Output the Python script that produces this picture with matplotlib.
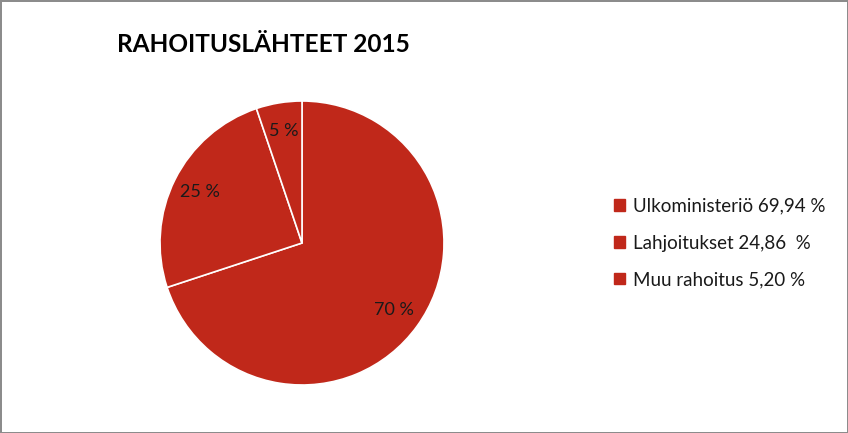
import matplotlib
matplotlib.use("Agg")
import matplotlib.pyplot as plt
from matplotlib.patches import Patch
import numpy as np

labels = ["Ulkoministeriö 69,94 %", "Lahjoitukset 24,86  %", "Muu rahoitus 5,20 %"]
values = [69.94, 24.86, 5.20]
pct_labels = ["70 %", "25 %", "5 %"]
title = "RAHOITUSLÄHTEET 2015"
color = "#C0281A"

W, H = 848, 433
fig = plt.figure(figsize=(W/100, H/100), dpi=100)
fig.patch.set_facecolor("white")
fig.patch.set_edgecolor("#8c8c8c")
fig.patch.set_linewidth(2)

cx, cy, r = 302, 243, 142
ax = fig.add_axes([(cx - r)/W, (H - cy - r)/H, 2*r/W, 2*r/H])
wedges, _ = ax.pie(values, colors=[color]*3, startangle=90, counterclock=False,
                   radius=1, wedgeprops=dict(edgecolor="white", linewidth=1.2))
ax.set_xlim(-1, 1); ax.set_ylim(-1, 1)
ax.set_aspect("equal")
ax.axis("off")

ang = 90.0
for v, t in zip(values, pct_labels):
    span = v / sum(values) * 360
    mid = np.deg2rad(ang - span/2)
    ang -= span
    d = 0.8
    ax.text(d*np.cos(mid), d*np.sin(mid), t, ha="center", va="center",
            fontsize=13, family="Lato", color="#1a1a1a")

fig.text(117/W, 1 - 45/H, title, ha="left", va="center", fontsize=17.6,
         fontweight="bold", family="Lato", color="black")

handles = [Patch(facecolor=color, edgecolor=color) for _ in labels]
leg = fig.legend(handles, labels, loc="center left", bbox_to_anchor=(597/W, 1 - 243/H),
                 frameon=False, handlelength=0.57, handleheight=0.57, handletextpad=0.45,
                 labelspacing=1.05, prop=dict(family="Lato", size=13.5))
for t in leg.get_texts():
    t.set_color("#1a1a1a")

fig.savefig("out.png", dpi=100, facecolor=fig.get_facecolor(), edgecolor=fig.get_edgecolor())
